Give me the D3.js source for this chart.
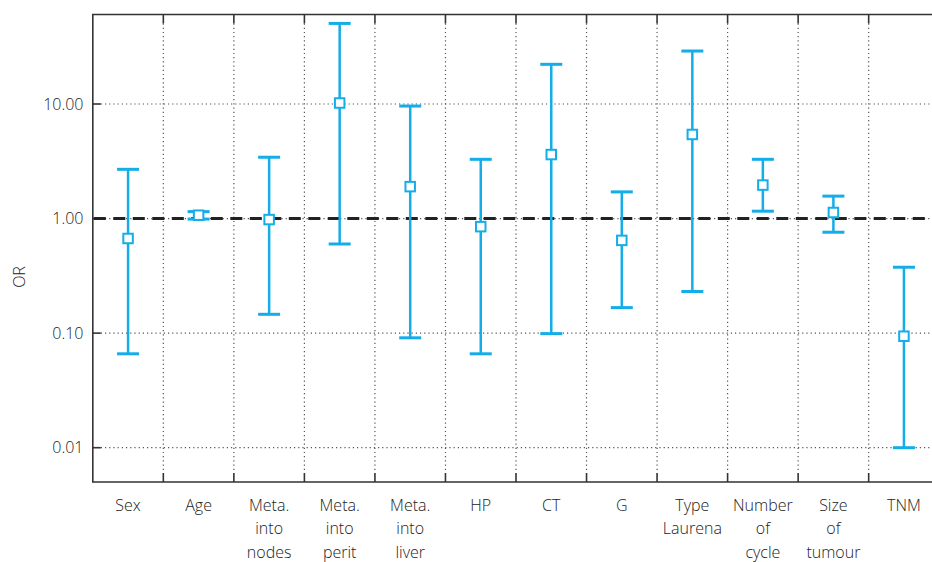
<!DOCTYPE html>
<html>
<head>
<meta charset="utf-8">
<script src="https://cdn.jsdelivr.net/npm/d3@7"></script>
<style>
  html, body { margin: 0; padding: 0; background: #fff; }
  svg { display: block; }
  text { font-family: "Open Sans", Lato, sans-serif; font-weight: 300; fill: #222; }
</style>
</head>
<body>
<svg id="chart" width="932" height="562"></svg>
<script>
// ---- Data ----
const categories = ["Sex", "Age", "Meta.\ninto\nnodes", "Meta.\ninto\nperit", "Meta.\ninto\nliver",
  "HP", "CT", "G", "Type\nLaurena", "Number\nof\ncycle", "Size\nof\ntumour", "TNM"];
const orValues = [0.67, 1.07, 0.98, 10.2, 1.90, 0.85, 3.62, 0.645, 5.42, 1.96, 1.13, 0.094];
const lowerCI  = [0.066, 0.99, 0.146, 0.60, 0.091, 0.066, 0.099, 0.167, 0.231, 1.16, 0.76, 0.010];
const upperCI  = [2.69, 1.15, 3.43, 50.5, 9.6, 3.29, 22.2, 1.71, 29.0, 3.29, 1.57, 0.376];
const yTicks = [0.01, 0.1, 1, 10];
const refValue = 1;
const yLabel = "OR";

// ---- Layout ----
const pLeft = 92.8, pRight = 939.2, pTop = 14.5, pBottom = 482;
const color = "#14ade8";

const svg = d3.select("#chart");

const x = d3.scaleBand().domain(categories).range([pLeft, pRight]).padding(0);
const y = d3.scaleLog().domain([0.01, 10]).range([447.7, 104]);

// gridlines (horizontal)
svg.append("g").selectAll("line").data(yTicks).join("line")
  .attr("x1", pLeft + 8).attr("x2", pRight)
  .attr("y1", d => y(d)).attr("y2", d => y(d))
  .attr("stroke", "#555").attr("stroke-width", 1.2).attr("stroke-dasharray", "1.2,3");

// gridlines (vertical dividers between categories)
const dividers = categories.slice(1).map(c => x(c));
svg.append("g").selectAll("line").data(dividers).join("line")
  .attr("x1", d => d).attr("x2", d => d)
  .attr("y1", pTop + 9).attr("y2", pBottom - 9)
  .attr("stroke", "#555").attr("stroke-width", 1.2).attr("stroke-dasharray", "1.2,3");

// frame
const frame = svg.append("g").attr("stroke", "#333").attr("stroke-width", 1.6).attr("fill", "none");
frame.append("path").attr("d", `M${pRight},${pTop}H${pLeft}V${pBottom}H${pRight}`);
frame.selectAll("line.tt").data(dividers).join("line").attr("class", "tt")
  .attr("x1", d => d).attr("x2", d => d).attr("y1", pTop).attr("y2", pTop + 9);
frame.selectAll("line.bt").data(dividers).join("line").attr("class", "bt")
  .attr("x1", d => d).attr("x2", d => d).attr("y1", pBottom).attr("y2", pBottom - 9);
frame.selectAll("line.yt").data(yTicks).join("line").attr("class", "yt")
  .attr("x1", pLeft).attr("x2", pLeft + 8).attr("y1", d => y(d)).attr("y2", d => y(d));

// y tick labels
const fmt = d3.format(".2f");
svg.append("g").selectAll("text").data(yTicks).join("text")
  .attr("x", 83.5).attr("y", d => y(d)).attr("dy", "0.36em")
  .attr("text-anchor", "end").attr("font-size", 16)
  .text(d => fmt(d));

// y axis label
svg.append("text")
  .attr("transform", "translate(25,277) rotate(-90)")
  .attr("text-anchor", "middle").attr("font-size", 16)
  .text(yLabel);

// x category labels
const lab = svg.append("g").selectAll("text").data(categories).join("text")
  .attr("text-anchor", "middle").attr("font-size", 16);
lab.each(function(d) {
  const t = d3.select(this);
  d.split("\n").forEach((s, i) => {
    t.append("tspan").attr("x", x(d) + x.bandwidth() / 2).attr("y", 511 + i * 23.3).text(s);
  });
});

// reference dashed line
svg.append("line")
  .attr("x1", pLeft + 1).attr("x2", pRight)
  .attr("y1", y(refValue)).attr("y2", y(refValue))
  .attr("stroke", "#222").attr("stroke-width", 3).attr("stroke-dasharray", "12,7.5");

// error bars
const rows = categories.map((c, i) => ({ c, v: orValues[i], lo: lowerCI[i], hi: upperCI[i] }));
const cx = d => x(d.c) + x.bandwidth() / 2;
const capW = 11;
const eb = svg.append("g");
eb.selectAll("line.v").data(rows).join("line").attr("class", "v")
  .attr("x1", cx).attr("x2", cx).attr("y1", d => y(d.lo)).attr("y2", d => y(d.hi))
  .attr("stroke", color).attr("stroke-width", 2.5);
eb.selectAll("line.capH").data(rows).join("line").attr("class", "capH")
  .attr("x1", d => cx(d) - capW).attr("x2", d => cx(d) + capW)
  .attr("y1", d => y(d.hi)).attr("y2", d => y(d.hi))
  .attr("stroke", color).attr("stroke-width", 3);
eb.selectAll("line.capL").data(rows).join("line").attr("class", "capL")
  .attr("x1", d => cx(d) - capW).attr("x2", d => cx(d) + capW)
  .attr("y1", d => y(d.lo)).attr("y2", d => y(d.lo))
  .attr("stroke", color).attr("stroke-width", 3);
eb.selectAll("rect").data(rows).join("rect")
  .attr("x", d => cx(d) - 4.75).attr("y", d => y(d.v) - 4.75)
  .attr("width", 9.5).attr("height", 9.5)
  .attr("fill", "#fff").attr("stroke", color).attr("stroke-width", 2);
</script>
</body>
</html>
